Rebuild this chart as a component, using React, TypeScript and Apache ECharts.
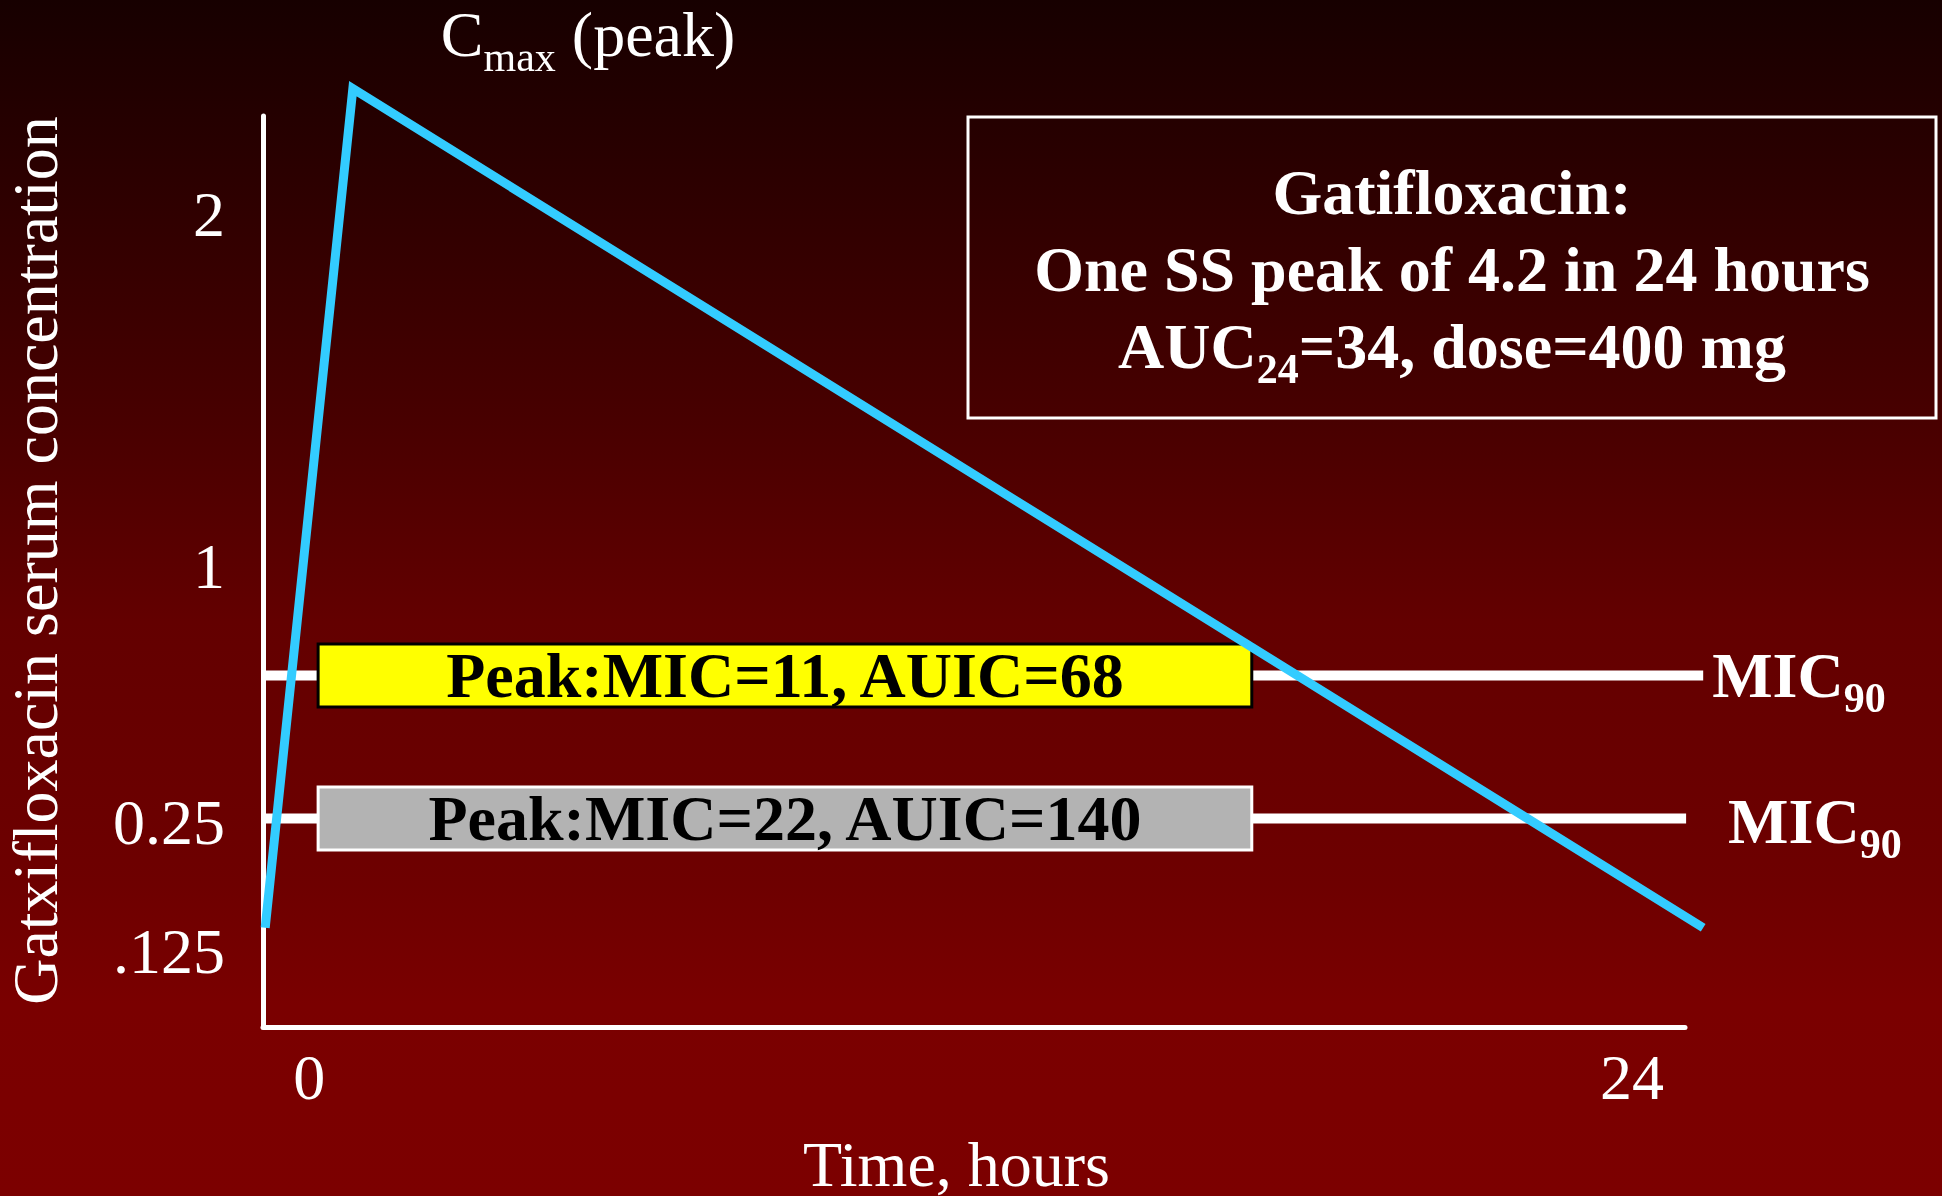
import React, { useEffect, useRef } from 'react';
import * as echarts from 'echarts';

// Time axis (hours)
const timeTickValues = [0, 24];
const timeMin = -0.84;
const timeMax = 24.96;

// Concentration axis: schematic levels and the labels printed on them
const concLevelMax = 100;
const concTickLevels = [8.34, 22.5, 50.6, 89.24];
const concTickLabels = ['.125', '0.25', '1', '2'];

// Serum concentration curve over one dosing interval: [hour, level]
const curveHours = [-0.8, 0.79, 25.29];
const curveLevels = [10.9, 103.0, 10.9];

// MIC90 thresholds and where each threshold line stops
const micLevels = [38.58, 22.89];
const micEndHours = [25.29, 24.98];

// Peak:MIC and AUIC ratios against each threshold
const ratioLabels = ['Peak:MIC=11, AUIC=68', 'Peak:MIC=22, AUIC=140'];

// Summary text
const drugName = 'Gatifloxacin:';
const peakSummary = 'One SS peak of 4.2 in 24 hours';
const aucSummary = ['AUC', '24', '=34, dose=400 mg'];
const slideNumber = '21';

const W = 1942;
const H = 1196;
const SERIF = '"Liberation Serif", "Times New Roman", Times, serif';
const WHITE = '#ffffff';
const CURVE_BLUE = '#33ccff';

// ratio boxes span this window of hours and sit centred on their MIC line
const RATIO_START = 0.16;
const RATIO_END = 17.1;
const RATIO_HALF = 3.45;
const RATIO_FILL = ['#ffff00', '#b3b3b3'];
const RATIO_STROKE = ['#000000', '#ffffff'];

// gap between each MIC line end and its label, and a small vertical nudge
const MIC_LABEL_GAP = [9, 42];
const MIC_LABEL_DY = [0, 3];

const zrMain = (weight: string, lh: number) => ({
  fontFamily: SERIF, fontSize: 64, fontWeight: weight, fill: WHITE, lineHeight: lh,
});
const zrSub = (weight: string, lh: number) => ({
  fontFamily: SERIF, fontSize: 42, fontWeight: weight, fill: WHITE, lineHeight: lh, padding: [45, 0, 0, 0],
});

function buildOption(): any {
  const micSeries = {
    type: 'custom',
    name: 'MIC90',
    z: 2,
    clip: false,
    silent: true,
    encode: { x: [0, 2], y: 1 },
    data: micLevels.map((lv, i) => [timeMin, lv, micEndHours[i]]),
    renderItem: (params: any, api: any) => {
      const i = params.dataIndex;
      const lv = api.value(1);
      const a = api.coord([api.value(0), lv]);
      const b = api.coord([api.value(2), lv]);
      return {
        type: 'group',
        children: [
          {
            type: 'line',
            shape: { x1: a[0], y1: a[1], x2: b[0], y2: b[1] },
            style: { stroke: WHITE, lineWidth: 10, lineCap: 'butt' },
          },
          {
            type: 'text',
            x: b[0] + MIC_LABEL_GAP[i],
            y: b[1] + MIC_LABEL_DY[i],
            style: {
              text: '{m|MIC}{s|90}',
              align: 'left',
              verticalAlign: 'middle',
              rich: { m: zrMain('bold', 64), s: zrSub('bold', 64) },
            },
          },
        ],
      };
    },
  };

  const ratioSeries = {
    type: 'custom',
    name: 'ratios',
    z: 3,
    clip: false,
    silent: true,
    encode: { x: [0, 2], y: 1 },
    data: micLevels.map((lv) => [RATIO_START, lv, RATIO_END]),
    renderItem: (params: any, api: any) => {
      const i = params.dataIndex;
      const lv = api.value(1);
      const tl = api.coord([api.value(0), lv + RATIO_HALF]);
      const br = api.coord([api.value(2), lv - RATIO_HALF]);
      return {
        type: 'rect',
        shape: { x: tl[0], y: tl[1], width: br[0] - tl[0], height: br[1] - tl[1] },
        style: { fill: RATIO_FILL[i], stroke: RATIO_STROKE[i], lineWidth: 3 },
        textContent: {
          type: 'text',
          style: {
            text: ratioLabels[i], fontFamily: SERIF, fontSize: 64, fontWeight: 'bold', fill: '#000000',
          },
        },
        textConfig: { position: 'inside' },
      };
    },
  };

  // whole curve drawn as one polyline so the peak keeps a sharp joint
  const curveSeries = {
    type: 'custom',
    name: 'serum concentration',
    z: 5,
    clip: false,
    silent: true,
    data: curveHours.map((h, i) => [h, curveLevels[i]]),
    renderItem: (params: any, api: any) => {
      if (params.dataIndexInside !== 0) return { type: 'group', children: [] };
      const pts: number[][] = [];
      for (let j = 0; j < params.dataInsideLength; j++) {
        pts.push(api.coord([api.value(0, j), api.value(1, j)]));
      }
      return {
        type: 'polyline',
        shape: { points: pts },
        style: { stroke: CURVE_BLUE, lineWidth: 9, fill: 'none', lineJoin: 'miter', lineCap: 'butt' },
      };
    },
  };

  // Cmax annotation anchored to the peak of the curve
  const peakSeries = {
    type: 'custom',
    name: 'peak',
    z: 6,
    clip: false,
    silent: true,
    data: [[curveHours[1], curveLevels[1]]],
    renderItem: (_params: any, api: any) => {
      const p = api.coord([api.value(0), api.value(1)]);
      return {
        type: 'text',
        x: p[0] + 88,
        y: p[1] - 54,
        style: {
          text: '{c|C}{s|max}{c| (peak)}',
          align: 'left',
          verticalAlign: 'middle',
          rich: { c: zrMain('normal', 64), s: zrSub('normal', 64) },
        },
      };
    },
  };

  return {
    animation: false,
    graphic: [
      {
        type: 'rect',
        z: -100,
        silent: true,
        shape: { x: 0, y: 0, width: W, height: H },
        style: {
          fill: new echarts.graphic.LinearGradient(0, 0, 0, 1, [
            { offset: 0, color: '#170000' },
            { offset: 0.35, color: '#480000' },
            { offset: 0.52, color: '#630000' },
            { offset: 0.74, color: '#6e0000' },
            { offset: 0.84, color: '#7a0000' },
            { offset: 1, color: '#7c0000' },
          ]),
        },
      },
      {
        type: 'rect',
        silent: true,
        shape: { x: 968, y: 117, width: 968, height: 301 },
        style: { fill: 'none', stroke: WHITE, lineWidth: 3 },
      },
      {
        type: 'text',
        silent: true,
        x: 1452,
        y: 153.9,
        style: {
          text: `{b|${drugName}}\n{b|${peakSummary}}\n{b|${aucSummary[0]}}{s|${aucSummary[1]}}{b|${aucSummary[2]}}`,
          align: 'center',
          verticalAlign: 'top',
          rich: { b: zrMain('bold', 77), s: zrSub('bold', 77) },
        },
      },
      {
        type: 'text',
        silent: true,
        x: 1797,
        y: 1192,
        style: { text: slideNumber, fontFamily: SERIF, fontSize: 30, fill: WHITE, verticalAlign: 'top' },
      },
    ],
    grid: {
      left: 263, top: 116, width: 1422, height: 911,
      containLabel: false,
      outerBoundsMode: 'none',
    },
    xAxis: {
      type: 'value',
      min: timeMin,
      max: timeMax,
      name: 'Time, hours',
      nameLocation: 'middle',
      nameGap: 105,
      nameTextStyle: { fontFamily: SERIF, fontSize: 64, color: WHITE, padding: [0, 35, 0, 0] },
      axisLine: { show: true, onZero: false, lineStyle: { color: WHITE, width: 5 } },
      axisTick: { show: false },
      splitLine: { show: false },
      axisLabel: {
        customValues: timeTickValues,
        fontFamily: SERIF,
        fontSize: 64,
        color: WHITE,
        margin: 18,
      },
    },
    yAxis: {
      type: 'value',
      min: 0,
      max: concLevelMax,
      name: 'Gatxifloxacin serum concentration',
      nameLocation: 'middle',
      nameRotate: 90,
      nameGap: 196,
      nameTextStyle: { fontFamily: SERIF, fontSize: 64, color: WHITE, padding: [0, 0, 0, 22] },
      axisLine: { show: true, onZero: false, lineStyle: { color: WHITE, width: 5 } },
      axisTick: { show: false },
      splitLine: { show: false },
      axisLabel: {
        customValues: concTickLevels,
        formatter: (v: number) => {
          const k = concTickLevels.findIndex((t) => Math.abs(t - v) < 1e-6);
          return k >= 0 ? concTickLabels[k] : '';
        },
        fontFamily: SERIF,
        fontSize: 64,
        color: WHITE,
        margin: 38,
      },
    },
    series: [micSeries, ratioSeries, curveSeries, peakSeries],
  };
}

export default function App() {
  const ref = useRef<HTMLDivElement>(null);
  useEffect(() => {
    if (!ref.current) return;
    const chart = echarts.init(ref.current, undefined, { renderer: 'svg' });
    chart.setOption(buildOption());
    return () => chart.dispose();
  }, []);
  return (
    <div
      ref={ref}
      style={{ position: 'fixed', left: 0, top: 0, width: W, height: H, overflow: 'hidden' }}
    />
  );
}
